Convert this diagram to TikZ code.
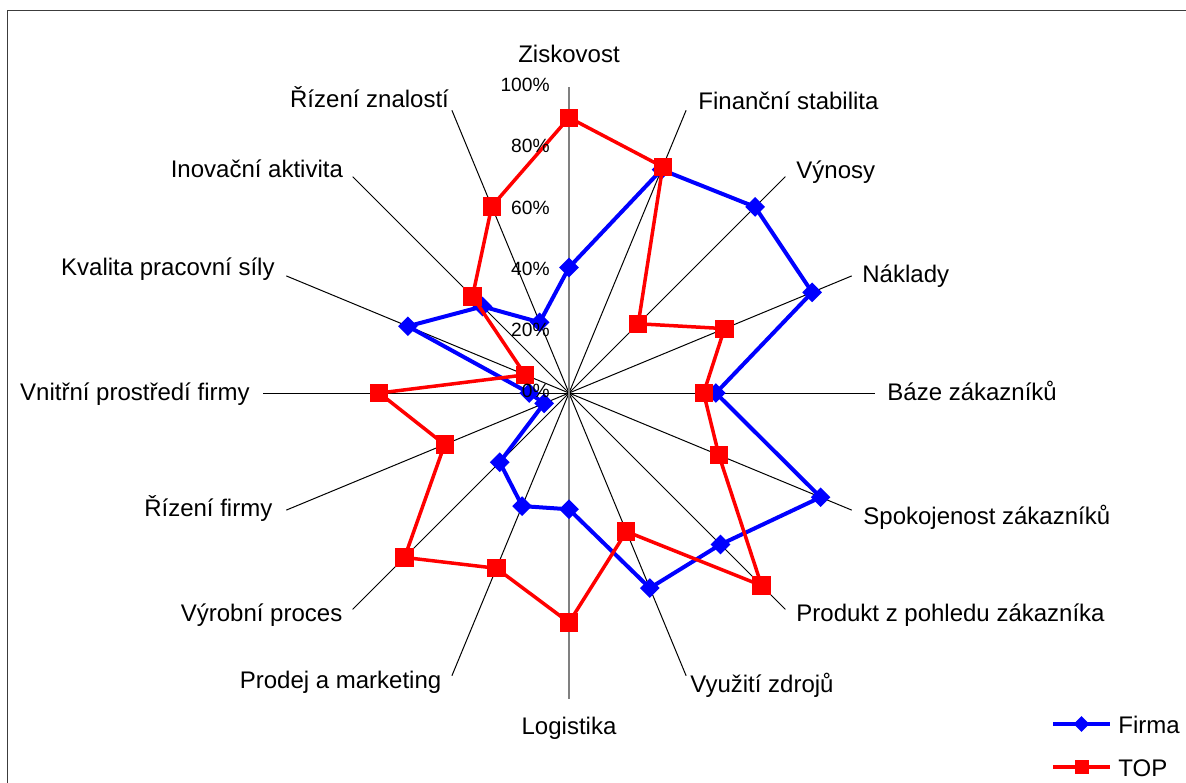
\documentclass[tikz,border=0pt]{standalone}
\usepackage{fontspec}
\setmainfont{Liberation Sans}
\usetikzlibrary{shapes.geometric,calc}
\definecolor{serblue}{RGB}{0,0,255}
\definecolor{serred}{RGB}{255,0,0}
\definecolor{framegray}{RGB}{60,60,60}
\definecolor{axisgray}{RGB}{128,128,128}
\begin{document}
\begin{tikzpicture}[x=0.5pt,y=-0.5pt,
  cat/.style={inner sep=0pt, font=\fontsize{12pt}{14pt}\selectfont},
  ticklabel/.style={inner sep=0pt, anchor=base east, font=\fontsize{9.6pt}{11pt}\selectfont},
  spoke/.style={black, line width=0.5pt},
  valaxis/.style={axisgray, line width=0.85pt},
  firmaline/.style={serblue, line width=2pt, line join=round},
  topline/.style={serred, line width=1.75pt, line join=round},
  firmamark/.style={diamond, fill=serblue, inner sep=0pt, minimum size=10pt},
  topmark/.style={rectangle, fill=serred, inner sep=0pt, minimum size=9.1pt},
  legfirmamark/.style={diamond, fill=serblue, inner sep=0pt, minimum size=8pt},
  legtopmark/.style={rectangle, fill=serred, inner sep=0pt, minimum size=7pt},
]
\useasboundingbox (0,0) rectangle (1186,782);

% outer chart frame (runs past the right and bottom edges)
\begin{scope}
  \clip (0,0) rectangle (1186,782);
  \draw[framegray, line width=0.6pt] (7.5,10.5) rectangle (1200,800);
\end{scope}

% centre and spoke ends (100 % = 306 units)
\coordinate (c) at (569,393);
\foreach \k in {0,...,15}
  \coordinate (ax\k) at ($(c)+({-90+22.5*\k}:306)$);

% spokes
\foreach \k in {1,...,7,9,10,...,15}
  \draw[spoke] (c) -- (ax\k);
\draw[valaxis] (c) -- (ax0);
\draw[valaxis] (c) -- (ax8);

% series points
\foreach \v [count=\i from 0] in {41,79,86,86,48,89,70,69,38,40,32,8.8,13,57,40,25}
  \coordinate (fp\i) at ($(c)+({-90+22.5*\i}:{3.06*\v})$);
\foreach \v [count=\i from 0] in {90,80,32,55,44,53,89,49,75,62,76,44,62,15.5,44.6,66}
  \coordinate (tp\i) at ($(c)+({-90+22.5*\i}:{3.06*\v})$);

% Firma series
\draw[firmaline] (fp0) \foreach \i in {1,...,15}{ -- (fp\i)} -- cycle;
\foreach \i in {0,...,15}
  \node[firmamark] (fm\i) at (fp\i) {};

% TOP series
\draw[topline] (tp0) \foreach \i in {1,...,15}{ -- (tp\i)} -- cycle;
\foreach \i in {0,...,15}
  \node[topmark] (tm\i) at (tp\i) {};

% value axis labels
\foreach \p [count=\j from 0] in {0,20,40,60,80,100}
  \node[ticklabel] (tick\j) at (550,{397.7-61.2*\j}) {\p\%};

% category labels
\node[cat, anchor=base] (l0) at (569,62.7) {Ziskovost};
\node[cat, anchor=base west] (l1) at (698,109) {Finanční stabilita};
\node[cat, anchor=base west] (l2) at (796,178) {Výnosy};
\node[cat, anchor=base west] (l3) at (862,282) {Náklady};
\node[cat, anchor=base west] (l4) at (887,400) {Báze zákazníků};
\node[cat, anchor=base west] (l5) at (863,524) {Spokojenost zákazníků};
\node[cat, anchor=base west] (l6) at (796,621.7) {Produkt z pohledu zákazníka};
\node[cat, anchor=base west] (l7) at (690,692) {Využití zdrojů};
\node[cat, anchor=base] (l8) at (569,734) {Logistika};
\node[cat, anchor=base east] (l9) at (441.7,688.3) {Prodej a marketing};
\node[cat, anchor=base east] (l10) at (342.7,621.7) {Výrobní proces};
\node[cat, anchor=base east] (l11) at (272.7,516.7) {Řízení firmy};
\node[cat, anchor=base east] (l12) at (250,400) {Vnitřní prostředí firmy};
\node[cat, anchor=base east] (l13) at (275,275) {Kvalita pracovní síly};
\node[cat, anchor=base east] (l14) at (343.3,177.3) {Inovační aktivita};
\node[cat, anchor=base east] (l15) at (449.3,107.3) {Řízení znalostí};

% legend
\coordinate (lfa) at (1053,724);
\coordinate (lfb) at (1110,724);
\draw[firmaline] (lfa) -- (lfb);
\node[legfirmamark] (lfm) at ($(lfa)!0.5!(lfb)$) {};
\node[cat, anchor=base west] (lft) at (1118,733.3) {Firma};
\coordinate (lta) at (1053,767);
\coordinate (ltb) at (1110,767);
\draw[topline] (lta) -- (ltb);
\node[legtopmark] (ltm) at ($(lta)!0.5!(ltb)$) {};
\node[cat, anchor=base west] (ltt) at (1118,776) {TOP};
\end{tikzpicture}
\end{document}
